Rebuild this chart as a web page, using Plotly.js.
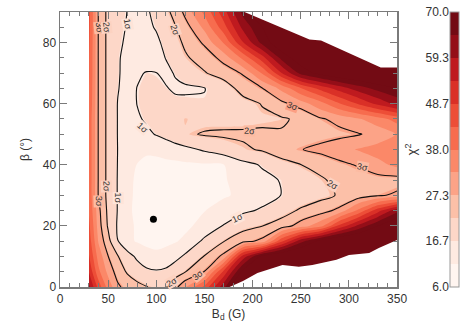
<!DOCTYPE html>
<html>
<head>
<meta charset="utf-8">
<script src="https://cdn.plot.ly/plotly-3.0.1.min.js"></script>
<style>
  html, body { margin: 0; padding: 0; background: #fff; }
  #plot { width: 463px; height: 331px; }
</style>
</head>
<body>
<div id="plot"></div>
<script>
// grid of the chi^2 map: field strength (G) and angle beta (deg)
const bField = [30, 40, 50, 60, 70, 80, 90, 100, 110, 120, 130, 150, 170, 190, 210, 230, 250, 270, 290, 310, 330, 350];
const betaAngle = [0, 5, 10, 15, 20, 25, 30, 35, 40, 45, 50, 55, 60, 65, 70, 75, 80, 85, 90];

// chi^2 values, one row per beta
const chi2 = [
  [60.9, 46.5, 35.7, 28.9, 26.2, 24.4, 22.8, 21.3, 22.2, 26.7, 32.1, 44.7, 62.8, 85, 90, 90, 90, 90, 90, 90, 90, 90],
  [53.7, 39.3, 31.2, 25.8, 21.9, 19.3, 17.5, 16.9, 17.5, 20.0, 22.4, 28.2, 50.1, 72, 85, 90, 90, 90, 90, 90, 90, 90],
  [49.2, 35.7, 28.1, 22.9, 18.6, 15.4, 13.0, 12.3, 13.0, 14.7, 17.3, 22.9, 29.4, 56.4, 72, 78, 80, 80, 82, 85, 88, 90],
  [46.5, 32.1, 24.4, 16.5, 12.3, 11.0, 10.3, 10.1, 10.4, 11.0, 12.3, 17.5, 22.4, 26.2, 29.4, 47.4, 62.8, 72, 78, 80, 85, 90],
  [44.7, 30.3, 21.9, 15.7, 13.0, 10.5, 8.0, 6.5, 7.5, 9.0, 10.3, 13.0, 16.7, 20.6, 22.5, 25.3, 30.3, 35.7, 50.1, 60.9, 70, 78],
  [42.9, 29.4, 21.3, 16.1, 13.0, 9.5, 7.0, 6.3, 7.2, 8.5, 9.5, 11.2, 13.3, 15.4, 17.1, 20.0, 23.5, 25.8, 29.4, 39.3, 51.9, 62.8],
  [42.0, 27.5, 21.0, 16.1, 13.3, 9.8, 7.2, 6.5, 7.0, 8.0, 8.8, 9.8, 10.8, 12.3, 14.3, 16.5, 18.6, 20.9, 23.1, 25.3, 27.4, 28.8],
  [42.0, 27.5, 21.0, 16.1, 13.3, 10.2, 7.8, 7.2, 7.5, 8.2, 8.9, 9.8, 10.9, 13.3, 15.0, 16.7, 19.3, 21.8, 24.1, 25.3, 26.2, 26.0],
  [42.0, 27.5, 21.0, 16.2, 13.6, 11.2, 10.5, 10.2, 10.2, 10.3, 10.5, 10.8, 11.2, 14.7, 16.9, 20.4, 22.5, 24.4, 26.7, 28.5, 31.2, 33.9],
  [42.0, 27.5, 21.0, 16.3, 14.3, 13.0, 11.9, 12.3, 13.3, 14.0, 15.0, 17.1, 19.3, 21.7, 23.2, 25.8, 27.8, 29.4, 31.2, 33.0, 34.8, 36.6],
  [42.0, 27.5, 21.0, 16.2, 14.7, 14.3, 15.4, 16.7, 18.0, 20.0, 21.7, 23.1, 23.5, 23.5, 23.5, 23.0, 24.9, 25.8, 26.7, 27.7, 29.4, 33.0],
  [42.0, 27.5, 21.0, 16.2, 14.3, 15.7, 17.1, 18.3, 19.3, 20.4, 22.2, 20.6, 20.4, 20.6, 21.4, 22.0, 23.5, 27.4, 29.4, 32.1, 35.7, 40.2],
  [43.0, 27.5, 21.0, 16.2, 13.6, 16.5, 17.3, 18.0, 18.3, 18.0, 17.5, 17.0, 18.6, 20.4, 22.9, 26.7, 30.3, 35.7, 42.9, 49.2, 55.5, 60.9],
  [43.5, 27.5, 21.0, 16.7, 14.3, 16.5, 17.2, 17.2, 16.8, 15.4, 15.6, 16.2, 19.5, 24.9, 27.8, 33.9, 42.9, 50.1, 56.4, 61.9, 66.4, 70],
  [44.0, 27.5, 21.0, 16.9, 14.7, 15.7, 16.7, 16.5, 15.0, 16.9, 18.6, 22.2, 25.1, 28.5, 38.4, 53.7, 66.4, 72, 76, 78, 80, 82],
  [44.0, 27.5, 21.0, 16.9, 15.0, 14.3, 13.6, 14.3, 16.6, 19.3, 21.9, 24.9, 29.8, 39.3, 51.9, 66.4, 74, 78, 80, 85, 90, 90],
  [44.5, 27.5, 21.0, 17.2, 15.7, 14.7, 14.3, 15.4, 17.7, 21.0, 23.5, 28.9, 38.4, 53.7, 66.4, 75, 80, 85, 90, 90, 90, 90],
  [45.0, 27.5, 21.0, 17.5, 16.1, 15.0, 15.4, 16.8, 20.0, 22.4, 25.8, 33.9, 46.5, 60.9, 70, 80, 90, 90, 90, 90, 90, 90],
  [45.5, 27.5, 21.0, 18.0, 16.3, 15.4, 15.7, 18.0, 21.3, 24.4, 29.4, 39.3, 51.9, 66.4, 85, 90, 90, 90, 90, 90, 90, 90]
];

// confidence levels drawn as black lines
const sigmaLevels = [16.4, 22.6, 28.0];

// parts of the grid with no solution (left white)
const noDataTopB = [191.5, 259, 271, 333, 350, 350];
const noDataTopBeta = [90, 81, 80.7, 71.8, 71.8, 90];
const noDataLowB = [176, 190, 205, 231, 248, 262, 287, 300, 321, 331, 350, 350];
const noDataLowBeta = [0, 2, 4.6, 7.2, 6.6, 7.2, 8.9, 10.5, 11.1, 12.8, 15.4, 0];

// best fit
const bestB = [97];
const bestBeta = [22.2];

// colour bar ticks
const cbTickVals = [6.0, 16.7, 27.3, 38.0, 48.7, 59.3, 70.0];
const cbTickText = ['6.0', '16.7', '27.3', '38.0', '48.7', '59.3', '70.0'];

// contour labels
const labelText = ['3σ', '2σ', '1σ', '3σ', '2σ', '1σ', '2σ', '1σ', '2σ', '3σ', '3σ', '2σ', '1σ', '2σ', '3σ'];
const labelB =    [40,   48,   60,   40.5, 48,   70,   119,  86,   197,  241,  314,  283,  184,  116,  143];
const labelBeta = [28,   33,   29,   85,   85,   86,   84,   52,   51,   59.3, 39.3, 33.4, 22.6, 1.8,  4];
const labelAngle = [88,  88,   90,   84,   84,   80,   72,   42,   2,    20,   10,   30,   -25,  -30,  -40];
const labelBg =   ['#fcbba2', '#fcd2c1', '#fee4d8', '#fcbba2', '#fcd2c1', '#fee4d8', '#fcd2c1', '#fee4d8', '#fcbba2',
                   '#fc9f83', '#fcbba2', '#fcd2c1', '#fee4d8', '#fcd2c1', '#fcbba2'];

const bandColors = ['#fff5f0', '#fee4d8', '#fcd2c1', '#fcbba2', '#fc9f83', '#fb8767',
                    '#f76d4f', '#ef5139', '#df3528', '#c81e21', '#a8101a', '#730b14'];

// fill colour of band k is sampled at (k+1)/13 by plotly
const bandScale = [[0, bandColors[0]]]
  .concat(bandColors.map((c, k) => [(k + 1) / 13, c]))
  .concat([[1, bandColors[bandColors.length - 1]]]);

const axisGray = '#7a7a7a';
const fontFam = 'Liberation Sans, Arial, sans-serif';

const traces = [];

traces.push({
  type: 'contour',
  x: bField,
  y: betaAngle,
  z: chi2,
  autocontour: false,
  contours: { start: 6, end: 70, size: 64 / 12, coloring: 'fill', showlines: false },
  line: { width: 0, smoothing: 0.8 },
  colorscale: bandScale,
  zmin: 6,
  zmax: 70,
  hoverinfo: 'skip',
  colorbar: {
    x: 0.977, xanchor: 'left', xpad: 0,
    y: 0, yanchor: 'bottom', ypad: 0,
    len: 1, thickness: 9,
    outlinewidth: 1, outlinecolor: '#999',
    showticklabels: false, ticks: ''
  }
});

// white areas where the fit has no value
[[noDataTopB, noDataTopBeta], [noDataLowB, noDataLowBeta]].forEach(([bx, by]) => {
  traces.push({
    type: 'scatter', mode: 'lines', x: bx, y: by,
    fill: 'toself', fillcolor: '#ffffff',
    line: { width: 0, color: '#ffffff' },
    hoverinfo: 'skip', showlegend: false
  });
});

sigmaLevels.forEach(level => {
  traces.push({
    type: 'contour',
    x: bField,
    y: betaAngle,
    z: chi2,
    autocontour: false,
    contours: { start: level, end: level, size: 1, coloring: 'none', showlines: true },
    line: { color: '#111', width: 1.1, smoothing: 0.8 },
    showscale: false,
    hoverinfo: 'skip'
  });
});

traces.push({
  type: 'scatter', mode: 'markers',
  x: bestB, y: bestBeta,
  marker: { color: '#000', size: 7 },
  hoverinfo: 'skip', showlegend: false
});

// empty trace so that the colour-bar axis (y2) is drawn
traces.push({
  type: 'scatter', mode: 'markers', x: [null], y: [null],
  xaxis: 'x', yaxis: 'y2', hoverinfo: 'skip', showlegend: false
});

const annotations = labelText.map((t, i) => ({
  x: labelB[i], y: labelBeta[i], xref: 'x', yref: 'y',
  text: t, showarrow: false, textangle: labelAngle[i],
  font: { family: fontFam, size: 9, color: '#333' },
  bgcolor: labelBg[i], borderpad: 0
}));

const layout = {
  width: 463,
  height: 331,
  margin: { l: 60, r: 4, t: 12, b: 44 },
  paper_bgcolor: '#fff',
  plot_bgcolor: '#fff',
  showlegend: false,
  font: { family: fontFam, size: 12, color: '#333' },
  xaxis: {
    domain: [0, 0.847],
    range: [0, 350],
    tick0: 0, dtick: 50,
    ticks: 'inside', ticklen: 7, tickcolor: axisGray, tickwidth: 1,
    minor: { dtick: 10, ticks: 'inside', ticklen: 4, tickcolor: axisGray },
    showline: true, linecolor: axisGray, linewidth: 1.5, mirror: 'ticks',
    showgrid: false, zeroline: false,
    tickfont: { size: 12, color: '#333' },
    title: { text: 'B<sub>d</sub> (G)', font: { size: 12, color: '#333' }, standoff: 4 }
  },
  yaxis: {
    range: [0, 90],
    tick0: 0, dtick: 20,
    ticks: 'inside', ticklen: 7, tickcolor: axisGray, tickwidth: 1,
    minor: { dtick: 5, ticks: 'inside', ticklen: 4, tickcolor: axisGray },
    showline: true, linecolor: axisGray, linewidth: 1.5, mirror: 'ticks',
    showgrid: false, zeroline: false,
    tickfont: { size: 12, color: '#333' },
    title: { text: 'β (°)', font: { size: 12, color: '#333' }, standoff: 10 }
  },
  yaxis2: {
    overlaying: 'y', anchor: 'free', position: 0.977, side: 'left',
    range: [6, 70], autorange: false,
    tickmode: 'array', tickvals: cbTickVals, ticktext: cbTickText,
    ticks: '', showline: false, showgrid: false, zeroline: false,
    tickfont: { size: 12, color: '#333' },
    title: { text: 'χ<sup>2</sup>', font: { size: 13, color: '#333' }, standoff: 4 }
  },
  annotations: annotations
};

Plotly.newPlot('plot', traces, layout, { staticPlot: true });
</script>
</body>
</html>
